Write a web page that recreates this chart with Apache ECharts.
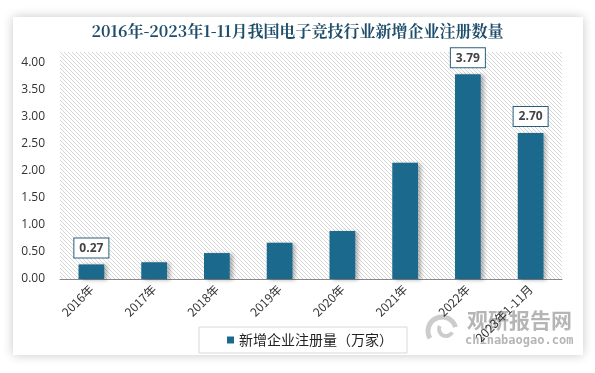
<!DOCTYPE html>
<html><head><meta charset="utf-8">
<script src="https://cdn.jsdelivr.net/npm/echarts@6/dist/echarts.min.js"></script>
<style>html,body{margin:0;padding:0;background:#fff}#c{width:595px;height:373px}</style>
</head><body><div id="c"></div>
<script>
const categories = ['2016年','2017年','2018年','2019年','2020年','2021年','2022年','2023年1-11月'];
const values = [0.27, 0.31, 0.48, 0.67, 0.89, 2.15, 3.79, 2.70];
const labeled = [true, false, false, false, false, false, true, true];
const seriesName = '新增企业注册量（万家）';
const titleText = '2016年-2023年1-11月我国电子竞技行业新增企业注册数量';

const pc = document.createElement('canvas');
pc.width = 4; pc.height = 4;
const g = pc.getContext('2d');
g.fillStyle = '#ffffff'; g.fillRect(0,0,4,4);
g.strokeStyle = 'rgba(170,170,170,0.6)'; g.lineWidth = 0.8;
g.beginPath();
g.moveTo(-1,-1); g.lineTo(5,5);
g.moveTo(-1,3); g.lineTo(1,5);
g.moveTo(3,-1); g.lineTo(5,1);
g.stroke();

const chart = echarts.init(document.getElementById('c'), null, {renderer:'canvas'});
const fontCJK = '"Noto Sans CJK SC","Noto Sans",sans-serif';
const wm = 'rgba(150,150,150,0.7)';
chart.setOption({
  animation:false,
  backgroundColor:'#ffffff',
  graphic:[
    {type:'rect', z:-10, shape:{x:13,y:17,width:570,height:338}, style:{fill:'#fff', shadowBlur:10, shadowColor:'rgba(0,0,0,0.22)'}},
    {type:'arc', z:-5, shape:{cx:442, cy:331, r:14, startAngle:2.6, endAngle:6.0}, style:{stroke:'rgba(170,170,170,0.6)', lineWidth:5, fill:'none'}},
    {type:'arc', z:-5, shape:{cx:446, cy:329, r:7, startAngle:0.5, endAngle:3.6}, style:{stroke:'rgba(170,170,170,0.6)', lineWidth:4, fill:'none'}},
    {type:'text', z:-5, left:467, top:310, style:{text:'观研报告网', fill:wm, font:'bold 21px "Noto Sans CJK SC"'}},
    {type:'text', z:-5, left:465, top:335, style:{text:'chinabaogao.com', fill:wm, font:'bold 12px "DejaVu Sans Mono"'}}
  ],
  title:{text:titleText, left:'center', top:18,
    textStyle:{fontFamily:'"Noto Serif CJK SC","Noto Sans CJK SC",serif', fontWeight:'bold', fontSize:16, color:'#1f4e6b'}},
  grid:{left:60, right:33, top:52, bottom:94, show:true, borderWidth:0,
    backgroundColor:{image:pc, repeat:'repeat'}},
  legend:{left:199, top:327, padding:[6,14,6,28], borderColor:'#d8d8d8', borderWidth:1,
    itemWidth:7, itemHeight:7, icon:'rect',
    textStyle:{fontFamily:fontCJK, fontSize:14, color:'#222'}, data:[seriesName]},
  xAxis:{type:'category', data:categories,
    axisLine:{lineStyle:{color:'#888', width:1}}, axisTick:{show:false},
    axisLabel:{rotate:45, interval:0, margin:8, fontSize:12, color:'#333', fontFamily:fontCJK}},
  yAxis:{type:'value', min:0, max:4.2, interval:0.5,
    axisLine:{show:false}, axisTick:{show:false}, splitLine:{show:false},
    axisLabel:{fontSize:12, color:'#333', margin:15, fontFamily:'"Open Sans",sans-serif',
      formatter:function(v){return Math.abs(v*2-Math.round(v*2))<1e-6 ? v.toFixed(2) : '';}}},
  series:[{name:seriesName, type:'bar', barWidth:'41%',
    itemStyle:{color:'#1b6a8d', shadowBlur:4, shadowColor:'rgba(0,0,0,0.3)', shadowOffsetX:3, shadowOffsetY:1},
    data: values.map((v,i)=>({value:v, label:{show:labeled[i]}})),
    label:{position:'top', distance:7, formatter:p=>p.value.toFixed(2),
      fontFamily:'"Open Sans",sans-serif', fontWeight:'bold', fontSize:12, color:'#444',
      backgroundColor:'#fff', borderColor:'#2a5f7c', borderWidth:1, padding:[4,5,3,5]}
  }]
});
</script></body></html>
